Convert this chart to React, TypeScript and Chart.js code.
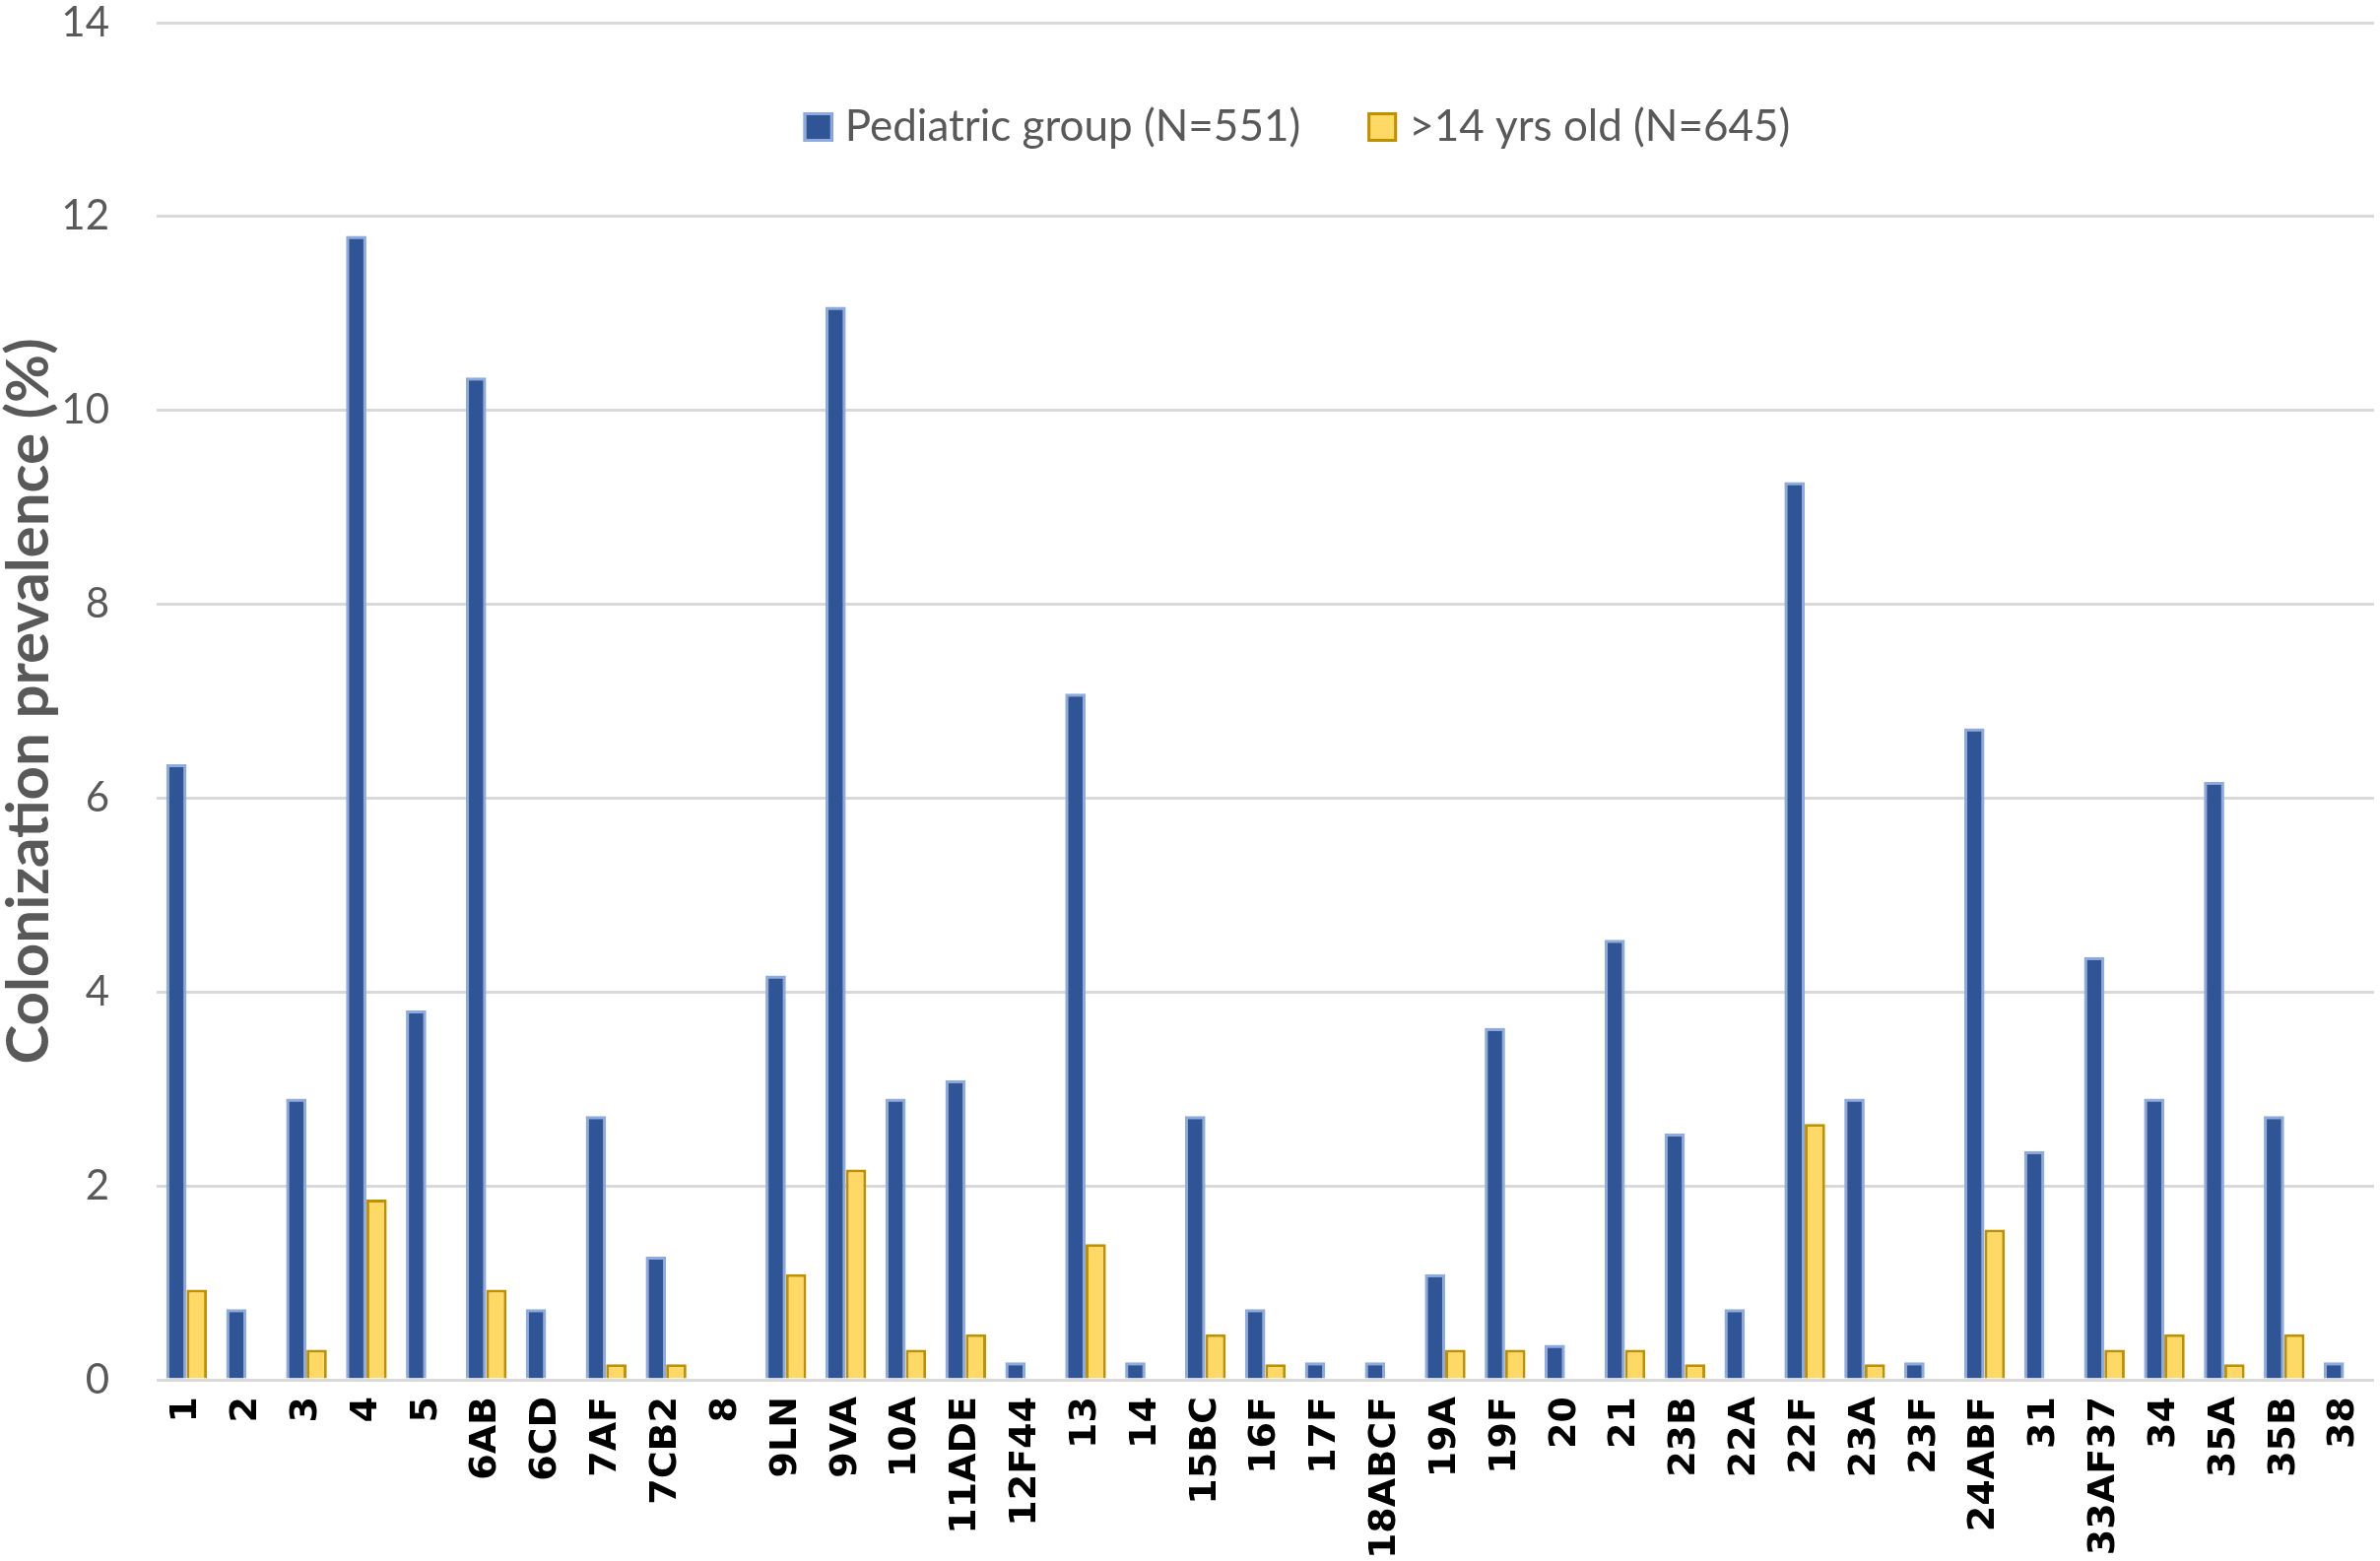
import { useEffect, useRef } from "react";
import { Chart, registerables } from "chart.js";

Chart.register(...registerables);

// serotypes along the x axis
const serotypes = [
  "1", "2", "3", "4", "5", "6AB", "6CD", "7AF", "7CB2", "8", "9LN", "9VA",
  "10A", "11ADE", "12F44", "13", "14", "15BC", "16F", "17F", "18ABCF", "19A",
  "19F", "20", "21", "23B", "22A", "22F", "23A", "23F", "24ABF", "31",
  "33AF37", "34", "35A", "35B", "38",
];

// colonization prevalence (%), pediatric group
const pediatric = [
  6.35, 0.73, 2.9, 11.8, 3.81, 10.34, 0.73, 2.72, 1.27, 0, 4.17, 11.07,
  2.9, 3.09, 0.18, 7.08, 0.18, 2.72, 0.73, 0.18, 0.18, 1.09,
  3.63, 0.36, 4.54, 2.54, 0.73, 9.26, 2.9, 0.18, 6.72, 2.36,
  4.36, 2.9, 6.17, 2.72, 0.18,
];

// colonization prevalence (%), older than 14
const adults = [
  0.93, 0, 0.31, 1.86, 0, 0.93, 0, 0.16, 0.16, 0, 1.09, 2.17,
  0.31, 0.47, 0, 1.4, 0, 0.47, 0.16, 0, 0, 0.31,
  0.31, 0, 0.31, 0.16, 0, 2.64, 0.16, 0, 1.55, 0,
  0.31, 0.47, 0.16, 0.47, 0,
];

const seriesLabels = ["Pediatric group (N=551)", ">14 yrs old (N=645)"];

const TEXT_FONT = 'Lato, "Noto Sans", sans-serif';
const GREY = "#595959";

// legend sits inside the plot, under the top gridline
const legendInPlot = {
  id: "legendInPlot",
  afterDatasetsDraw(chart: Chart) {
    const { ctx, chartArea } = chart;
    const box = 30;
    const gapText = 12;
    const gapItem = 68;
    ctx.save();
    ctx.font = `44px ${TEXT_FONT}`;
    const items = chart.data.datasets.map((ds: any) => ({
      label: ds.label as string,
      fill: ds.backgroundColor as string,
      stroke: ds.borderColor as string,
      w: ctx.measureText(ds.label).width,
    }));
    const total =
      items.reduce((s, it) => s + box + gapText + it.w, 0) +
      gapItem * (items.length - 1);
    let x = (chartArea.left + chartArea.right) / 2 + 32 - total / 2;
    const y = chartArea.top + 106;
    items.forEach((it) => {
      ctx.fillStyle = it.fill;
      ctx.fillRect(x, y - box / 2, box, box);
      ctx.strokeStyle = it.stroke;
      ctx.lineWidth = 3;
      ctx.strokeRect(x + 1.5, y - box / 2 + 1.5, box - 3, box - 3);
      ctx.fillStyle = GREY;
      ctx.textBaseline = "middle";
      ctx.textAlign = "left";
      ctx.fillText(it.label, x + box + gapText, y);
      x += box + gapText + it.w + gapItem;
    });
    ctx.restore();
  },
};

const App = () => {
  const canvasRef = useRef<HTMLCanvasElement>(null);

  useEffect(() => {
    if (!canvasRef.current) return;
    const chart = new Chart(canvasRef.current, {
      type: "bar",
      data: {
        labels: serotypes,
        datasets: [
          {
            label: seriesLabels[0],
            data: pediatric,
            backgroundColor: "#2F5597",
            borderColor: "#8FAADC",
            borderWidth: 3,
          },
          {
            label: seriesLabels[1],
            data: adults,
            backgroundColor: "#FFD966",
            borderColor: "#BF9000",
            borderWidth: 3,
          },
        ],
      },
      options: {
        animation: false,
        responsive: true,
        maintainAspectRatio: false,
        events: [],
        datasets: {
          bar: { categoryPercentage: 0.68, barPercentage: 1.0 },
        },
        layout: { padding: { top: 23, right: 6, left: 0, bottom: 0 } },
        plugins: {
          legend: { display: false },
          tooltip: { enabled: false },
        },
        scales: {
          x: {
            // invisible tick marks give the gap below the axis
            grid: {
              display: true,
              drawOnChartArea: false,
              drawTicks: true,
              tickLength: 17,
              tickColor: "rgba(0,0,0,0)",
            },
            border: { display: false },
            ticks: {
              autoSkip: false,
              maxRotation: 90,
              minRotation: 90,
              padding: 0,
              color: "#000000",
              font: { family: '"DejaVu Sans", sans-serif', size: 38, weight: "bold" },
            },
            afterFit: (scale) => {
              scale.height = 184;
              scale.paddingLeft = 0;
              scale.paddingRight = 0;
            },
          },
          y: {
            min: 0,
            max: 14,
            ticks: {
              stepSize: 2,
              padding: 0,
              color: GREY,
              font: { family: TEXT_FONT, size: 42, lineHeight: 1 },
            },
            grid: {
              color: "#D9D9D9",
              lineWidth: 3,
              drawTicks: true,
              tickLength: 48,
              tickColor: "rgba(0,0,0,0)",
            },
            border: { display: false },
            title: {
              display: true,
              text: "Colonization prevalence (%)",
              color: GREY,
              padding: 0,
              font: { family: TEXT_FONT, size: 60, weight: "bold", lineHeight: 1 },
            },
            afterFit: (scale) => {
              scale.width = 159;
            },
          },
        },
      },
      plugins: [legendInPlot],
    });
    return () => chart.destroy();
  }, []);

  return (
    <div
      style={{
        position: "fixed",
        left: 0,
        top: 0,
        width: 2416,
        height: 1585,
        background: "#ffffff",
      }}
    >
      <canvas ref={canvasRef} />
    </div>
  );
};

export default App;
